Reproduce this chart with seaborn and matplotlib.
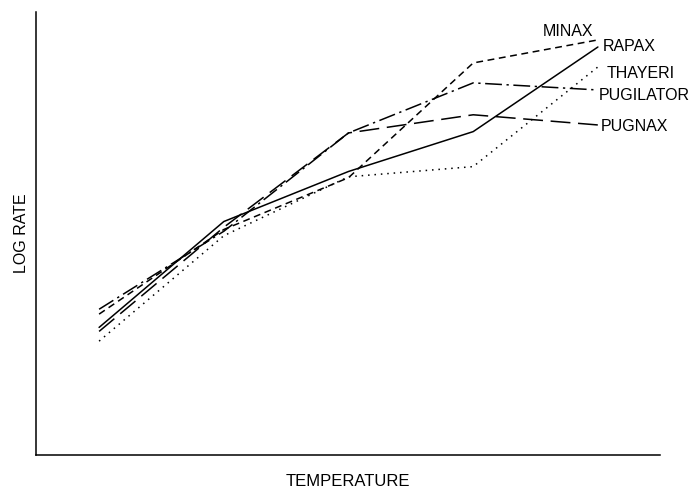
import matplotlib
matplotlib.use("Agg")
import matplotlib.pyplot as plt
import seaborn as sns
import pandas as pd

# Data (arbitrary log-rate units)
temperature = [1, 2, 3, 4, 5]
species = ["RAPAX", "MINAX", "PUGILATOR", "PUGNAX", "THAYERI"]
rapax = [2.88, 5.27, 6.40, 7.30, 9.21]
minax = [3.18, 5.09, 6.26, 8.85, 9.37]
pugilator = [3.29, 5.05, 7.27, 8.40, 8.24]
pugnax = [2.79, 5.14, 7.27, 7.68, 7.45]
thayeri = [2.57, 4.95, 6.28, 6.51, 8.76]

series = {"RAPAX": rapax, "MINAX": minax, "PUGILATOR": pugilator,
          "PUGNAX": pugnax, "THAYERI": thayeri}
rows = []
for name in species:
    for t, v in zip(temperature, series[name]):
        rows.append({"temperature": t, "lograte": v, "species": name})
df = pd.DataFrame(rows)

sns.set_theme(style="white")
plt.rcParams["font.family"] = ["Liberation Sans", "DejaVu Sans"]
plt.rcParams["text.color"] = "black"
plt.rcParams["axes.labelcolor"] = "black"

fig = plt.figure(figsize=(6.94, 4.90), dpi=100)
ax = fig.add_axes([36 / 694, 35 / 490, 624 / 694, 443 / 490])

dashes = {
    "RAPAX": "",
    "MINAX": (4.5, 3),
    "PUGILATOR": (11, 3, 1.5, 3),
    "PUGNAX": (13, 5),
    "THAYERI": (1, 3.2),
}
sns.lineplot(data=df, x="temperature", y="lograte", style="species",
             dashes=dashes, color="black", linewidth=1.1, legend=False,
             ax=ax, estimator=None, sort=False)

ax.set_xlim(0.494, 5.498)
ax.set_ylim(0, 10)
ax.set_xticks([])
ax.set_yticks([])
for s in ["top", "right"]:
    ax.spines[s].set_visible(False)
for s in ["left", "bottom"]:
    ax.spines[s].set_color("black")
    ax.spines[s].set_linewidth(1.1)

ax.set_xlabel("TEMPERATURE", fontsize=12, labelpad=14, color="black")
ax.set_ylabel("LOG RATE", fontsize=11.5, labelpad=5, color="black")

# Series labels at the line ends
fs = 11.5
ax.text(4.76, 9.55, "MINAX", fontsize=fs, ha="center", va="center", color="black")
ax.text(5.04, 9.21, "RAPAX", fontsize=fs, ha="left", va="center", color="black")
ax.text(5.07, 8.62, "THAYERI", fontsize=fs, ha="left", va="center", color="black")
ax.text(5.01, 8.11, "PUGILATOR", fontsize=fs, ha="left", va="center", color="black")
ax.text(5.02, 7.41, "PUGNAX", fontsize=fs, ha="left", va="center", color="black")

fig.savefig("out.png", dpi=100)
